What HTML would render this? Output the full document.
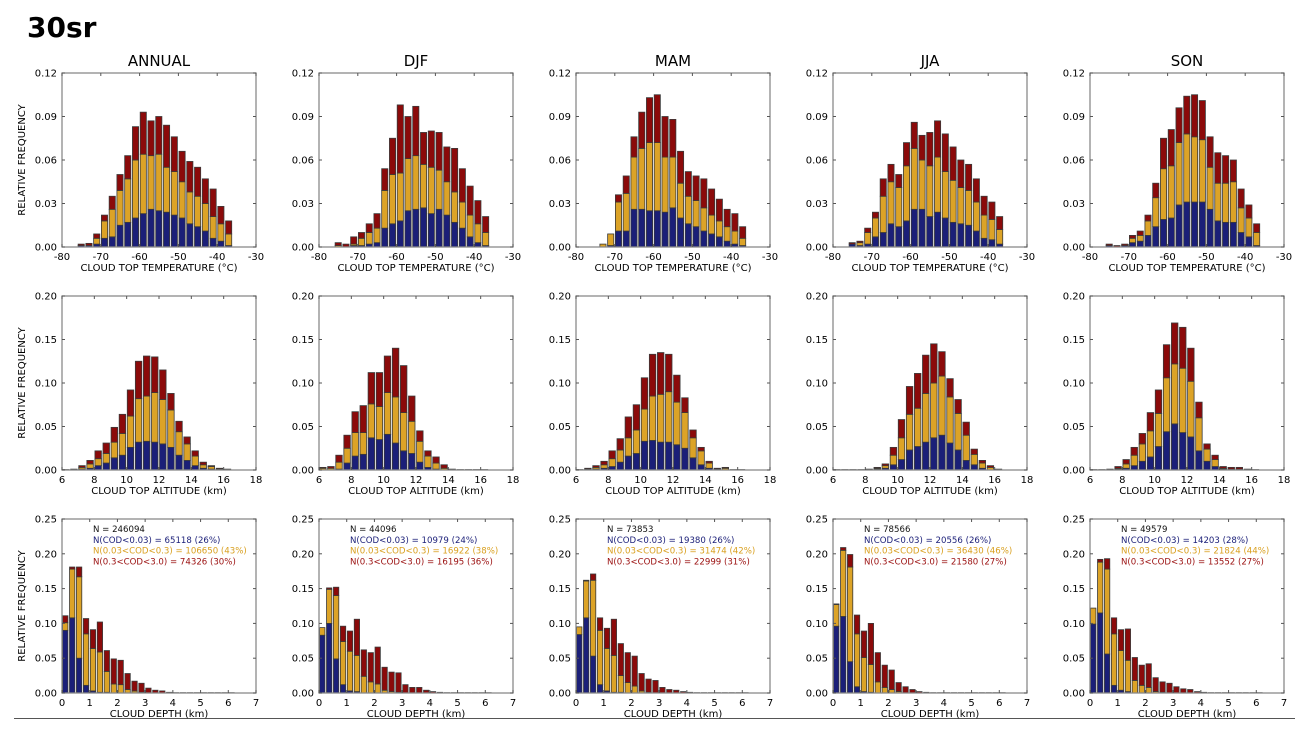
<!DOCTYPE html>
<html><head><meta charset="utf-8">
<style>
html,body{margin:0;padding:0;background:#fff;}
svg{display:block;font-family:"DejaVu Sans","Liberation Sans",sans-serif;}
</style></head>
<body>
<svg id="fig" width="1309" height="734" viewBox="0 0 1309 734" xmlns="http://www.w3.org/2000/svg">
<rect x="0" y="0" width="1309" height="734" fill="#fff"/>
<text x="27" y="37" font-size="28" font-weight="bold" font-family="'DejaVu Sans','Liberation Sans',sans-serif" fill="#000">30sr</text>
<line x1="14" y1="718.5" x2="1295" y2="718.5" stroke="#555" stroke-width="1"/>
</svg>
<script>
const seasons = ["ANNUAL","DJF","MAM","JJA","SON"];
// Row 1: cloud top temperature, bins of 2 C starting at -76
const tempStart = -76, tempStep = 2;
const tempTotal = [
 [0.002,0.0025,0.009,0.022,0.035,0.050,0.063,0.083,0.093,0.087,0.090,0.084,0.076,0.066,0.059,0.055,0.047,0.040,0.028,0.018],
 [0.003,0.002,0.007,0.010,0.016,0.023,0.054,0.075,0.098,0.090,0.097,0.079,0.080,0.079,0.069,0.068,0.054,0.042,0.032,0.021],
 [0,0.002,0.009,0.036,0.049,0.076,0.093,0.103,0.105,0.090,0.088,0.066,0.052,0.049,0.047,0.040,0.033,0.026,0.023,0.014],
 [0.003,0.004,0.013,0.024,0.047,0.057,0.050,0.072,0.086,0.077,0.079,0.087,0.078,0.069,0.060,0.057,0.047,0.035,0.031,0.021],
 [0.002,0.001,0.002,0.008,0.011,0.022,0.044,0.075,0.081,0.096,0.104,0.105,0.101,0.076,0.065,0.063,0.060,0.040,0.029,0.016]];
const tempYellow = [
 [0.001,0.001,0.006,0.018,0.026,0.039,0.047,0.060,0.064,0.063,0.064,0.055,0.052,0.045,0.038,0.035,0.030,0.021,0.016,0.009],
 [0.001,0,0.002,0.006,0.010,0.013,0.039,0.050,0.051,0.061,0.063,0.057,0.055,0.053,0.045,0.038,0.031,0.022,0.016,0.010],
 [0,0.002,0.009,0.031,0.037,0.062,0.068,0.072,0.072,0.062,0.062,0.044,0.035,0.032,0.027,0.022,0.018,0.014,0.011,0.006],
 [0.002,0.003,0.010,0.020,0.035,0.045,0.041,0.056,0.068,0.060,0.056,0.062,0.052,0.046,0.041,0.039,0.031,0.022,0.019,0.012],
 [0.001,0,0.001,0.006,0.008,0.018,0.034,0.054,0.056,0.072,0.078,0.076,0.074,0.055,0.044,0.044,0.045,0.027,0.020,0.010]];
const tempBlue = [
 [0.001,0.001,0.002,0.006,0.007,0.015,0.017,0.020,0.023,0.026,0.025,0.024,0.022,0.020,0.016,0.014,0.011,0.006,0.004,0.001],
 [0,0.001,0.001,0.001,0.002,0.003,0.013,0.016,0.018,0.025,0.026,0.027,0.023,0.026,0.022,0.017,0.013,0.007,0.003,0.001],
 [0,0,0.001,0.011,0.011,0.026,0.026,0.025,0.025,0.024,0.027,0.020,0.016,0.014,0.011,0.009,0.007,0.004,0.002,0.001],
 [0.002,0.001,0.002,0.007,0.010,0.016,0.014,0.018,0.026,0.026,0.021,0.024,0.020,0.017,0.016,0.015,0.011,0.006,0.005,0.002],
 [0.001,0,0.001,0.003,0.004,0.008,0.014,0.019,0.020,0.029,0.031,0.031,0.031,0.026,0.018,0.017,0.017,0.010,0.007,0.001]];
// Row 2: cloud top altitude, bins of 0.5 km starting at 6
const altStart = 6, altStep = 0.5;
const altTotal = [
 [0.0005,0.001,0.005,0.011,0.022,0.031,0.049,0.064,0.092,0.125,0.131,0.130,0.115,0.088,0.056,0.038,0.022,0.009,0.005,0.002,0.001],
 [0.003,0.004,0.017,0.040,0.067,0.074,0.112,0.112,0.131,0.140,0.120,0.085,0.045,0.022,0.015,0.006,0.001,0.0005,0.0005,0.0005,0.0005],
 [0.0005,0.002,0.005,0.010,0.022,0.036,0.061,0.075,0.106,0.133,0.135,0.133,0.109,0.083,0.046,0.026,0.010,0.002,0.003,0.0005,0.0005],
 [0.0005,0.0005,0.0005,0.0005,0.001,0.003,0.007,0.026,0.058,0.096,0.111,0.132,0.145,0.136,0.105,0.081,0.055,0.024,0.011,0.005,0.001],
 [0.0005,0.0005,0.001,0.004,0.012,0.026,0.042,0.066,0.092,0.144,0.169,0.164,0.140,0.078,0.030,0.017,0.004,0.003,0.003,0.001,0.0005]];
const altYellow = [
 [0,0.001,0.003,0.007,0.013,0.019,0.032,0.042,0.062,0.082,0.085,0.089,0.081,0.069,0.044,0.030,0.016,0.006,0.004,0.001,0],
 [0.002,0.002,0.009,0.025,0.043,0.043,0.076,0.073,0.089,0.084,0.066,0.056,0.033,0.016,0.008,0.002,0,0,0,0,0],
 [0,0.001,0.003,0.006,0.013,0.023,0.037,0.046,0.070,0.085,0.087,0.090,0.078,0.066,0.037,0.022,0.008,0.001,0.002,0,0],
 [0,0,0,0,0,0.002,0.005,0.017,0.037,0.064,0.071,0.088,0.100,0.108,0.084,0.065,0.040,0.018,0.008,0.003,0],
 [0,0,0,0.002,0.007,0.017,0.030,0.045,0.065,0.106,0.122,0.117,0.102,0.060,0.024,0.012,0.002,0.001,0.001,0,0]];
const altBlue = [
 [0,0,0.001,0.002,0.005,0.008,0.014,0.017,0.026,0.032,0.033,0.032,0.030,0.026,0.017,0.011,0.005,0.002,0.001,0,0],
 [0,0,0.001,0.008,0.016,0.018,0.037,0.035,0.041,0.031,0.022,0.019,0.009,0.003,0.001,0,0,0,0,0,0],
 [0,0,0.001,0.002,0.004,0.009,0.016,0.019,0.033,0.034,0.032,0.032,0.029,0.025,0.014,0.006,0.002,0,0,0,0],
 [0,0,0,0,0,0.001,0.002,0.006,0.012,0.023,0.027,0.032,0.037,0.040,0.031,0.023,0.011,0.006,0.002,0,0],
 [0,0,0,0.001,0.002,0.005,0.010,0.015,0.027,0.044,0.053,0.043,0.038,0.022,0.010,0.004,0.001,0,0,0,0]];
// Row 3: cloud depth, bins of 0.25 km starting at 0
const depStart = 0, depStep = 0.25;
const depTotal = [
 [0.111,0.181,0.181,0.107,0.091,0.102,0.061,0.049,0.047,0.028,0.017,0.014,0.007,0.004,0.003,0.001,0.0005,0.0005,0.0005,0.0005,0.0005,0.0005,0.0005,0.0005,0.0005],
 [0.094,0.151,0.152,0.096,0.089,0.106,0.062,0.058,0.066,0.037,0.030,0.029,0.012,0.008,0.008,0.004,0.002,0.001,0.0005,0.0005,0.0005,0.0005,0.0005,0.0005,0.0005],
 [0.095,0.162,0.171,0.108,0.093,0.106,0.071,0.058,0.053,0.028,0.020,0.018,0.008,0.005,0.004,0.002,0.001,0.0005,0.0005,0.0005,0.0005,0.0005,0.0005,0.0005,0.0005],
 [0.128,0.209,0.199,0.112,0.089,0.100,0.058,0.040,0.033,0.015,0.009,0.005,0.002,0.001,0.0005,0.0005,0.0005,0.0005,0.0005,0.0005,0.0005,0.0005,0.0005,0.0005,0.0005],
 [0.122,0.192,0.193,0.108,0.091,0.092,0.051,0.040,0.042,0.022,0.016,0.014,0.009,0.006,0.005,0.002,0.001,0.0005,0.0005,0.0005,0.0005,0.0005,0.0005,0.0005,0.0005]];
const depYellow = [
 [0.101,0.178,0.167,0.085,0.064,0.059,0.031,0.013,0.012,0.005,0.003,0.001,0,0,0,0,0,0,0,0,0,0,0,0,0],
 [0.094,0.149,0.140,0.074,0.060,0.054,0.024,0.016,0.013,0.004,0.002,0.001,0,0,0,0,0,0,0,0,0,0,0,0,0],
 [0.095,0.161,0.162,0.090,0.064,0.054,0.025,0.015,0.010,0.003,0.001,0,0,0,0,0,0,0,0,0,0,0,0,0,0],
 [0.127,0.205,0.181,0.085,0.051,0.041,0.016,0.008,0.005,0.002,0,0,0,0,0,0,0,0,0,0,0,0,0,0,0],
 [0.122,0.188,0.178,0.085,0.061,0.047,0.018,0.011,0.008,0.002,0.001,0,0,0,0,0,0,0,0,0,0,0,0,0,0]];
const depBlue = [
 [0.090,0.108,0.050,0.011,0.003,0.001,0.001,0,0,0,0,0,0,0,0,0,0,0,0,0,0,0,0,0,0],
 [0.083,0.100,0.049,0.012,0.003,0.002,0,0,0,0,0,0,0,0,0,0,0,0,0,0,0,0,0,0,0],
 [0.084,0.108,0.053,0.012,0.003,0.001,0.001,0,0,0,0,0,0,0,0,0,0,0,0,0,0,0,0,0,0],
 [0.096,0.110,0.045,0.009,0.002,0.001,0,0,0,0,0,0,0,0,0,0,0,0,0,0,0,0,0,0,0],
 [0.099,0.115,0.056,0.011,0.004,0.002,0,0,0,0,0,0,0,0,0,0,0,0,0,0,0,0,0,0,0]];
const tempTicksX = [-80,-70,-60,-50,-40,-30];
const tempTicksY = ["0.00","0.03","0.06","0.09","0.12"];
const altTicksX = [6,8,10,12,14,16,18];
const altTicksY = ["0.00","0.05","0.10","0.15","0.20"];
const depTicksX = [0,1,2,3,4,5,6,7];
const depTicksY = ["0.00","0.05","0.10","0.15","0.20","0.25"];
const annN = ["N = 246094","N = 44096","N = 73853","N = 78566","N = 49579"];
const annBlue = ["N(COD<0.03) = 65118 (26%)","N(COD<0.03) = 10979 (24%)","N(COD<0.03) = 19380 (26%)","N(COD<0.03) = 20556 (26%)","N(COD<0.03) = 14203 (28%)"];
const annYellow = ["N(0.03<COD<0.3) = 106650 (43%)","N(0.03<COD<0.3) = 16922 (38%)","N(0.03<COD<0.3) = 31474 (42%)","N(0.03<COD<0.3) = 36430 (46%)","N(0.03<COD<0.3) = 21824 (44%)"];
const annRed = ["N(0.3<COD<3.0) = 74326 (30%)","N(0.3<COD<3.0) = 16195 (36%)","N(0.3<COD<3.0) = 22999 (31%)","N(0.3<COD<3.0) = 21580 (27%)","N(0.3<COD<3.0) = 13552 (27%)"];

const NS = "http://www.w3.org/2000/svg";
const svg = document.getElementById('fig');
const colLeft = [62,319,576,833,1090];
const PW = 194, PH = 174;
const C_BLUE = "#1b1f78", C_YEL = "#dca327", C_RED = "#8b0a0a", C_EDGE = "#3a3a3a";
function mk(tag, attrs, parent){
  const e = document.createElementNS(NS, tag);
  for (const k in attrs) e.setAttribute(k, attrs[k]);
  (parent||svg).appendChild(e);
  return e;
}
const rows = [
 {top:73, xmin:-80, xmax:-30, ymax:0.12, start:tempStart, step:tempStep, tot:tempTotal, yel:tempYellow, blu:tempBlue, tx:tempTicksX, ty:tempTicksY, xl:"CLOUD TOP TEMPERATURE (\u00B0C)", key:"temperature"},
 {top:296, xmin:6, xmax:18, ymax:0.20, start:altStart, step:altStep, tot:altTotal, yel:altYellow, blu:altBlue, tx:altTicksX, ty:altTicksY, xl:"CLOUD TOP ALTITUDE (km)", key:"altitude"},
 {top:519, xmin:0, xmax:7, ymax:0.25, start:depStart, step:depStep, tot:depTotal, yel:depYellow, blu:depBlue, tx:depTicksX, ty:depTicksY, xl:"CLOUD DEPTH (km)", key:"depth"}
];
rows.forEach((r, ri) => {
  for (let c = 0; c < 5; c++) {
    const x0 = colLeft[c], y0 = r.top;
    const g = mk('g', {});
    
    
    const xs = v => x0 + (v - r.xmin) / (r.xmax - r.xmin) * PW;
    const ys = v => y0 + PH - v / r.ymax * PH;
    if (ri === 0) {
      const t = mk('text', {x: x0 + PW/2, y: 66, 'font-size': 15, 'text-anchor': 'middle', fill: '#000'}, g);
      t.textContent = seasons[c];
      
      
    }
    const tot = r.tot[c], yel = r.yel[c], blu = r.blu[c];
    for (let i = 0; i < tot.length; i++) {
      const a = r.start + i * r.step;
      const bx = xs(a) + 0.6, bw = xs(a + r.step) - xs(a) - 1.6;
      const segs = [[0, blu[i], C_BLUE, 'bar-blue'], [blu[i], yel[i], C_YEL, 'bar-yellow'], [yel[i], tot[i], C_RED, 'bar-red']];
      segs.forEach(s => {
        if (s[1] - s[0] <= 0) return;
        const rc = mk('rect', {x: bx, y: ys(s[1]), width: bw, height: ys(s[0]) - ys(s[1]), fill: s[2], stroke: C_EDGE, 'stroke-width': 0.8}, g);
        
        
      });
    }
    const fr = mk('rect', {x: x0, y: y0, width: PW, height: PH, fill: 'none', stroke: '#8a8a8a', 'stroke-width': 1.3}, g);
    
    
    r.tx.forEach(v => {
      const X = xs(v);
      mk('line', {x1: X, y1: y0 + PH, x2: X, y2: y0 + PH - 3, stroke: '#555', 'stroke-width': 1}, g);
      mk('line', {x1: X, y1: y0, x2: X, y2: y0 + 3, stroke: '#555', 'stroke-width': 1}, g);
      const t = mk('text', {x: X, y: y0 + PH + 13, 'font-size': 10, 'text-anchor': 'middle', fill: '#000'}, g);
      t.textContent = String(v);
      
      
    });
    r.ty.forEach(s => {
      const Y = ys(parseFloat(s));
      mk('line', {x1: x0, y1: Y, x2: x0 + 3, y2: Y, stroke: '#555', 'stroke-width': 1}, g);
      mk('line', {x1: x0 + PW, y1: Y, x2: x0 + PW - 3, y2: Y, stroke: '#555', 'stroke-width': 1}, g);
      const t = mk('text', {x: x0 - 5, y: Y + 3.5, 'font-size': 10, 'text-anchor': 'end', fill: '#000'}, g);
      t.textContent = s;
      
      
    });
    const xl = mk('text', {x: x0 + PW/2, y: y0 + PH + 24, 'font-size': 10, 'text-anchor': 'middle', fill: '#000'}, g);
    xl.textContent = r.xl;
    
    
    if (c === 0) {
      const yl = mk('text', {x: 0, y: 0, 'font-size': 10, 'text-anchor': 'middle', fill: '#000', transform: 'translate(25,' + (y0 + PH/2) + ') rotate(-90)'}, g);
      yl.textContent = "RELATIVE FREQUENCY";
      
      
    }
    if (ri === 2) {
      const lines = [[annN[c], '#111'], [annBlue[c], '#1b1f78'], [annYellow[c], '#d9a020'], [annRed[c], '#9b1010']];
      lines.forEach((L, k) => {
        const t = mk('text', {x: x0 + 31, y: y0 + 13 + k * 10.8, 'font-size': 8.6, fill: L[1]}, g);
        t.textContent = L[0];
        
        
      });
    }
  }
});
</script>
</body></html>
